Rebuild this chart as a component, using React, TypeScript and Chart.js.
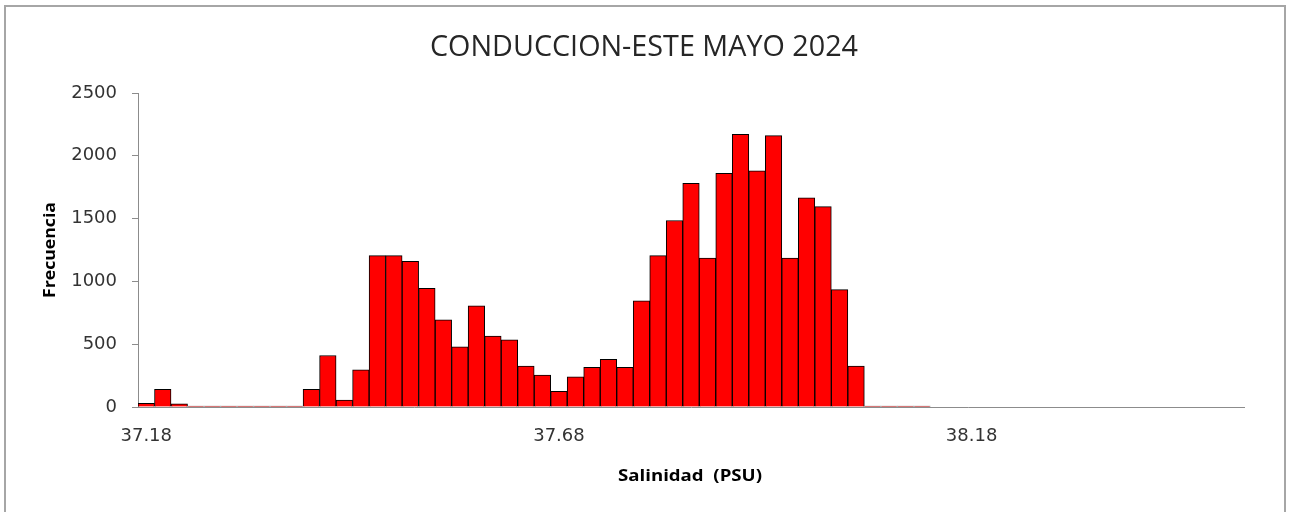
import React, { useEffect, useRef } from "react";
import { Chart, registerables } from "chart.js";

Chart.register(...registerables);

const CHART_TITLE = "CONDUCCION-ESTE MAYO 2024";
const X_TITLE = "Salinidad  (PSU)";
const Y_TITLE = "Frecuencia";

const SALINITY_BINS = [
  "37.18", "37.20", "37.22", "37.24", "37.26", "37.28", "37.30", "37.32", "37.34", "37.36",
  "37.38", "37.40", "37.42", "37.44", "37.46", "37.48", "37.50", "37.52", "37.54", "37.56",
  "37.58", "37.60", "37.62", "37.64", "37.66", "37.68", "37.70", "37.72", "37.74", "37.76",
  "37.78", "37.80", "37.82", "37.84", "37.86", "37.88", "37.90", "37.92", "37.94", "37.96",
  "37.98", "38.00", "38.02", "38.04", "38.06", "38.08", "38.10", "38.12", "38.14", "38.16",
  "38.18", "38.20", "38.22", "38.24", "38.26", "38.28", "38.30", "38.32", "38.34", "38.36",
  "38.38", "38.40", "38.42", "38.44", "38.46", "38.48", "38.50",
];

const FREQUENCY = [
  30, 140, 25, 8, 8, 8, 8, 8, 8, 8,
  140, 410, 55, 295, 1205, 1205, 1160, 945, 695, 480,
  805, 565, 535, 325, 255, 125, 240, 315, 380, 315,
  845, 1205, 1485, 1780, 1185, 1860, 2170, 1880, 2160, 1185,
  1665, 1595, 935, 325, 8, 8, 8, 8, 0, 0,
  0, 0, 0, 0, 0, 0, 0, 0, 0, 0,
  0, 0, 0, 0, 0, 0, 0,
];

const SHOWN_X_LABELS = ["37.18", "37.68", "38.18"];
const Y_MIN = 0;
const Y_MAX = 2500;
const Y_STEP = 500;

function drawFitted(
  ctx: CanvasRenderingContext2D,
  text: string,
  x: number,
  y: number,
  targetWidth: number,
  font: string,
  rotate = 0
) {
  ctx.save();
  ctx.font = font;
  const w = ctx.measureText(text).width;
  ctx.translate(x, y);
  if (rotate) ctx.rotate(rotate);
  ctx.scale(targetWidth / w, 1);
  ctx.textAlign = "center";
  ctx.textBaseline = "middle";
  ctx.fillText(text, 0, 0);
  ctx.restore();
}

const decorPlugin = {
  id: "decor",
  beforeDraw(chart: any) {
    const ctx = chart.ctx as CanvasRenderingContext2D;
    ctx.save();
    ctx.fillStyle = "#ffffff";
    ctx.fillRect(0, 0, chart.width, chart.height);
    ctx.restore();
  },
  afterDraw(chart: any) {
    const ctx = chart.ctx as CanvasRenderingContext2D;
    ctx.save();
    ctx.strokeStyle = "#a6a6a6";
    ctx.lineWidth = 2;
    ctx.strokeRect(5, 6, 1280, 530);
    ctx.fillStyle = "#262626";
    drawFitted(ctx, CHART_TITLE, 644, 47, 428, "30px 'Open Sans'");
    ctx.fillStyle = "#000000";
    drawFitted(ctx, Y_TITLE, 50, 250, 96, "bold 16px 'Open Sans'", -Math.PI / 2);
    drawFitted(ctx, X_TITLE, 690, 476, 144, "bold 16px 'Open Sans'");
    ctx.restore();
  },
};

export default function App() {
  const ref = useRef<HTMLCanvasElement | null>(null);
  useEffect(() => {
    if (!ref.current) return;
    const chart = new Chart(ref.current, {
      type: "bar",
      data: {
        labels: SALINITY_BINS,
        datasets: [
          {
            label: "Frecuencia",
            data: FREQUENCY,
            backgroundColor: "#ff0000",
            borderColor: "#000000",
            borderWidth: 1,
            barPercentage: 1,
            categoryPercentage: 1,
          },
        ],
      },
      options: {
        animation: false,
        responsive: false,
        devicePixelRatio: 1,
        layout: { padding: { left: 0, top: 93, right: 46, bottom: 55 } },
        plugins: {
          legend: { display: false },
          tooltip: { enabled: false },
          title: { display: false },
        },
        scales: {
          x: {
            type: "category",
            grid: { display: false, drawTicks: false },
            border: { display: true, color: "#8c8c8c", width: 1 },
            ticks: {
              autoSkip: false,
              maxRotation: 0,
              minRotation: 0,
              padding: 19,
              color: "#333333",
              font: { family: "'DejaVu Sans'", size: 18 },
              callback: function (this: any, _v: any, i: number) {
                const l = SALINITY_BINS[i];
                return SHOWN_X_LABELS.includes(l) ? l : "";
              },
            },
            afterFit: (s: any) => {
              s.height = 50;
            },
          },
          y: {
            min: Y_MIN,
            max: Y_MAX,
            grid: {
              display: true,
              drawOnChartArea: false,
              drawTicks: true,
              tickLength: 6,
              color: "#8c8c8c",
            },
            border: { display: true, color: "#8c8c8c", width: 1 },
            ticks: {
              stepSize: Y_STEP,
              padding: 15,
              color: "#333333",
              font: { family: "'DejaVu Sans'", size: 18 },
              callback: (v: any) => String(v),
            },
            afterFit: (s: any) => {
              s.width = 138;
            },
          },
        },
      },
      plugins: [decorPlugin],
    });
    return () => chart.destroy();
  }, []);
  return (
    <div style={{ position: "fixed", left: 0, top: 0, width: 1290, height: 512 }}>
      <canvas ref={ref} width={1290} height={512} style={{ width: 1290, height: 512, display: "block" }} />
    </div>
  );
}
